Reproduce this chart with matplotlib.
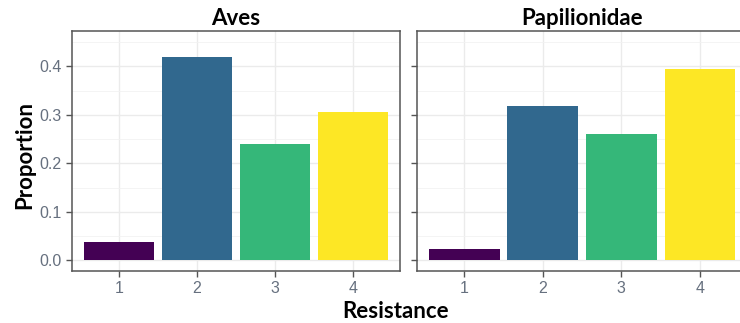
import numpy as np
import matplotlib.pyplot as plt

# proportions per resistance class, one facet per taxon
resistance = [1, 2, 3, 4]
aves = [0.037, 0.419, 0.239, 0.306]
papilionidae = [0.023, 0.319, 0.261, 0.394]
taxa = ["Aves", "Papilionidae"]
fills = ["#440154", "#31688E", "#35B779", "#FDE725"]
yticks = [0.0, 0.1, 0.2, 0.3, 0.4]

label_font = "Lato"
tick_font = "Liberation Sans"
tick_col = "#66707f"
border_col = "#555555"

fig = plt.figure(figsize=(7.4, 3.23), dpi=100)
ax1 = fig.add_axes([0.0973, 0.161, 0.443, 0.743])
ax2 = fig.add_axes([0.5635, 0.161, 0.446, 0.743])

for ax, vals, name in zip([ax1, ax2], [aves, papilionidae], taxa):
    ax.set_xlim(0.4, 4.6)
    ax.set_ylim(-0.022, 0.473)
    ax.set_yticks(yticks)
    ax.set_yticks(np.arange(0.05, 0.46, 0.1), minor=True)
    ax.set_xticks(resistance)
    ax.grid(which="major", color="#ebebeb", lw=1.0, zorder=0)
    ax.grid(which="minor", axis="y", color="#f2f2f2", lw=0.6, zorder=0)
    ax.set_axisbelow(True)
    ax.bar(resistance, vals, width=0.9, color=fills, lw=0, zorder=2)
    for s in ax.spines.values():
        s.set_color(border_col)
        s.set_linewidth(1.1)
    ax.tick_params(which="major", length=4, width=1, color=border_col,
                   pad=3.5, labelcolor=tick_col, labelsize=11.5)
    ax.tick_params(which="minor", length=0)
    for t in ax.get_xticklabels() + ax.get_yticklabels():
        t.set_fontfamily(tick_font)
    ax.set_title(name, fontsize=16, fontweight="bold", family=label_font, pad=4)

ax1.set_yticklabels(["%.1f" % v for v in yticks])
ax2.set_yticklabels([])

fig.text(0.034, 0.52, "Proportion", rotation=90, ha="center", va="center",
         fontsize=16, fontweight="bold", family=label_font)
fig.text(0.534, 0.037, "Resistance", ha="center", va="center",
         fontsize=16, fontweight="bold", family=label_font)

fig.savefig("out.png", dpi=100, facecolor="white")
